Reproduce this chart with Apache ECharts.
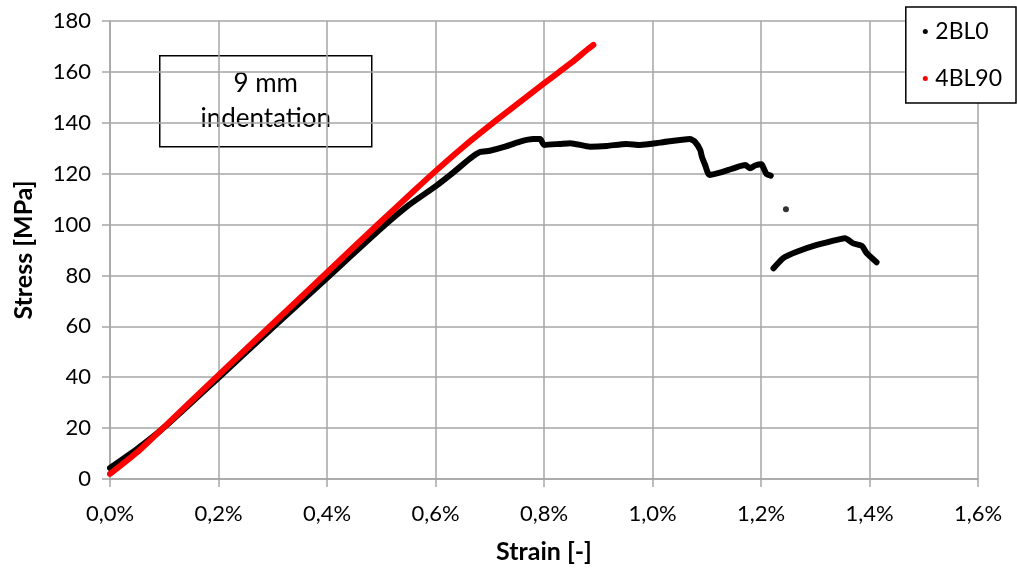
<!DOCTYPE html>
<html>
<head>
<meta charset="utf-8">
<script src="https://cdn.jsdelivr.net/npm/echarts@6/dist/echarts.min.js"></script>
<style>
  html, body { margin: 0; padding: 0; background: #fff; }
  #chart { width: 1017px; height: 569px; }
</style>
</head>
<body>
<div id="chart"></div>
<script>
// Stress–strain curves, strain in %, stress in MPa
const strainTicks = [0, 0.2, 0.4, 0.6, 0.8, 1.0, 1.2, 1.4, 1.6];
const stressTicks = [0, 20, 40, 60, 80, 100, 120, 140, 160, 180];

// 2BL0: loading branch up to the second drop
const bl0Upper = [
  [0.000, 4.3], [0.050, 11.8], [0.100, 20.3], [0.200, 39.8], [0.300, 59.5],
  [0.400, 79.0], [0.500, 98.5], [0.550, 107.5], [0.600, 115.0], [0.633, 120.5],
  [0.664, 126.0], [0.682, 128.5], [0.700, 129.0], [0.725, 130.4], [0.756, 132.6],
  [0.780, 133.6], [0.793, 133.6], [0.800, 131.3], [0.829, 131.7], [0.848, 132.0],
  [0.885, 130.6], [0.916, 130.9], [0.952, 131.7], [0.977, 131.3], [1.014, 132.2],
  [1.069, 133.6], [1.078, 132.6], [1.088, 129.3], [1.091, 126.7], [1.097, 123.4],
  [1.105, 119.5], [1.124, 120.4], [1.149, 122.1], [1.171, 123.4], [1.180, 122.1],
  [1.189, 123.2], [1.201, 123.7], [1.205, 122.1], [1.210, 119.9], [1.218, 119.2]
];
// 2BL0: single reading between the two branches
const bl0Isolated = [[1.246, 106.0]];
// 2BL0: residual branch after the final drop
const bl0Lower = [
  [1.223, 82.8], [1.241, 86.8], [1.266, 89.3], [1.303, 92.0], [1.346, 94.3],
  [1.355, 94.6], [1.370, 92.6], [1.386, 91.6], [1.395, 88.7], [1.413, 85.2]
];
// 4BL90
const bl90 = [
  [0.000, 2.0], [0.050, 10.5], [0.100, 20.5], [0.200, 40.8], [0.300, 61.0],
  [0.400, 81.2], [0.500, 101.3], [0.560, 113.2], [0.600, 121.0], [0.650, 130.3],
  [0.713, 141.1], [0.800, 155.5], [0.850, 163.5], [0.880, 168.8], [0.891, 170.6]
];

const seriesNames = ['2BL0', '4BL90'];
const seriesColors = ['#000000', '#ff0000'];
const noteLines = ['9 mm', 'indentation'];

const FONT = 'Lato, "Liberation Sans", sans-serif';
const GRID_COLOR = '#a6a6a6';

const chart = echarts.init(document.getElementById('chart'), null, { renderer: 'canvas' });

function fmtStrain(v) {
  return v.toFixed(1).replace('.', ',') + '%';
}

const curveLine = (name, data, color) => ({
  name: name,
  type: 'line',
  data: data,
  smooth: 0.2,
  showSymbol: false,
  symbol: 'circle',
  symbolSize: 6,
  itemStyle: { color: color },
  lineStyle: { color: color, width: 6, cap: 'round', join: 'round' },
  emphasis: { disabled: true },
  animation: false
});

chart.setOption({
  backgroundColor: '#ffffff',
  animation: false,
  grid: { left: 110, right: 39, top: 21, bottom: 90, containLabel: false },
  xAxis: {
    type: 'value',
    min: strainTicks[0],
    max: strainTicks[strainTicks.length - 1],
    interval: 0.2,
    name: 'Strain [-]',
    nameLocation: 'middle',
    nameGap: 60,
    nameTextStyle: { fontFamily: FONT, fontSize: 25, fontWeight: 'bold', color: '#000' },
    axisLine: { show: true, onZero: false, lineStyle: { color: GRID_COLOR, width: 1.5 } },
    axisTick: { show: true, inside: false, length: 8, lineStyle: { color: GRID_COLOR, width: 1.5 } },
    axisLabel: { formatter: fmtStrain, margin: 24, fontFamily: FONT, fontSize: 22, color: '#000' },
    splitLine: { show: true, lineStyle: { color: GRID_COLOR, width: 1.5 } }
  },
  yAxis: {
    type: 'value',
    min: stressTicks[0],
    max: stressTicks[stressTicks.length - 1],
    interval: 20,
    name: 'Stress [MPa]',
    nameLocation: 'middle',
    nameRotate: 90,
    nameGap: 74,
    nameTextStyle: { fontFamily: FONT, fontSize: 25, fontWeight: 'bold', color: '#000' },
    axisLine: { show: true, lineStyle: { color: GRID_COLOR, width: 1.5 } },
    axisTick: { show: true, inside: false, length: 8, lineStyle: { color: GRID_COLOR, width: 1.5 } },
    axisLabel: { margin: 19, fontFamily: FONT, fontSize: 22, color: '#000' },
    splitLine: { show: true, lineStyle: { color: GRID_COLOR, width: 1.5 } }
  },
  legend: {
    data: seriesNames,
    orient: 'vertical',
    right: 1,
    top: 7,
    icon: 'circle',
    itemWidth: 10,
    itemHeight: 5,
    itemGap: 24,
    padding: [13, 14, 13, 17],
    borderColor: '#000',
    borderWidth: 1.5,
    backgroundColor: '#fff',
    textStyle: { fontFamily: FONT, fontSize: 23, color: '#000' },
    selectedMode: false
  },
  graphic: [{
    type: 'group',
    left: 159,
    top: 55,
    children: [
      {
        type: 'rect',
        shape: { x: 0, y: 0, width: 212, height: 91 },
        style: { fill: '#fff', stroke: '#000', lineWidth: 1.5 }
      },
      {
        type: 'text',
        x: 106, y: 28,
        style: { text: noteLines[0], fontFamily: FONT, fontSize: 26, fill: '#000', align: 'center', verticalAlign: 'middle' }
      },
      {
        type: 'text',
        x: 106, y: 63,
        style: { text: noteLines[1], fontFamily: FONT, fontSize: 26, fill: '#000', align: 'center', verticalAlign: 'middle' }
      }
    ]
  }],
  series: [
    curveLine(seriesNames[0], bl0Upper, seriesColors[0]),
    curveLine(seriesNames[0], bl0Lower, seriesColors[0]),
    {
      name: seriesNames[0],
      type: 'scatter',
      data: bl0Isolated,
      symbol: 'circle',
      symbolSize: 6,
      itemStyle: { color: seriesColors[0] },
      emphasis: { disabled: true },
      animation: false
    },
    curveLine(seriesNames[1], bl90, seriesColors[1])
  ]
});
</script>
</body>
</html>
